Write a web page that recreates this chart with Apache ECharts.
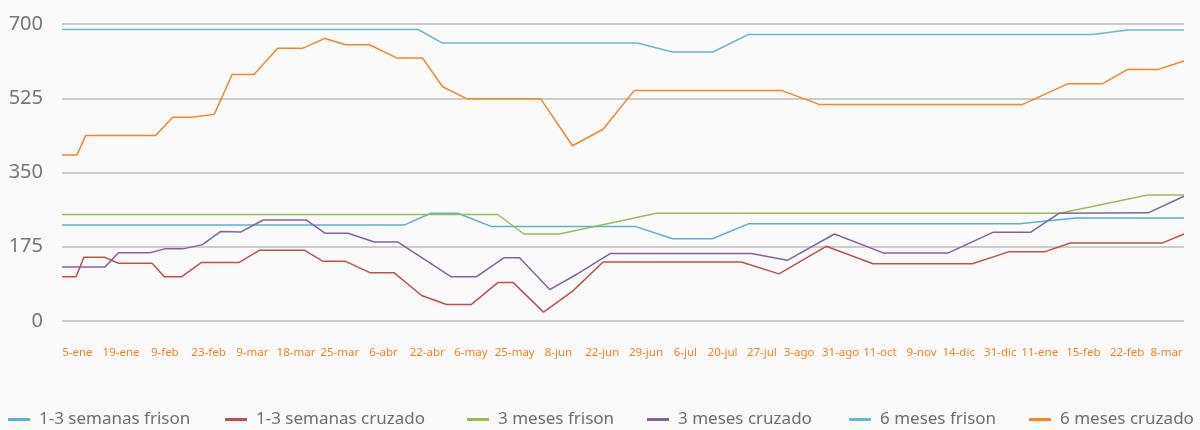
<!DOCTYPE html>
<html>
<head>
<meta charset="utf-8">
<title>Precios terneros</title>
<script src="https://cdn.jsdelivr.net/npm/echarts@6/dist/echarts.min.js"></script>
<style>
  html, body { margin: 0; padding: 0; background: #fafafa; }
  #chart { width: 1200px; height: 430px; }
</style>
</head>
<body>
<div id="chart"></div>
<script>
// etiquetas del eje x y su posición en la escala
var tickLabels = ['5-ene', '19-ene', '9-feb', '23-feb', '9-mar', '18-mar', '25-mar', '6-abr', '22-abr', '6-may',
  '25-may', '8-jun', '22-jun', '29-jun', '6-jul', '20-jul', '27-jul', '3-ago', '31-ago', '11-oct',
  '9-nov', '14-dic', '31-dic', '11-ene', '15-feb', '22-feb', '8-mar']
var tickPos = [3.5, 13.5, 23.5, 33.5, 43.5, 53.5, 63.5, 73.5, 83.5, 93.5,
  103.5, 113.5, 123.5, 133.5, 142.5, 151, 160, 168.5, 178, 187,
  196.5, 205, 214.5, 223.5, 233.5, 243.5, 252.5]

var seriesNames = ['1-3 semanas frison', '1-3 semanas cruzado', '3 meses frison', '3 meses cruzado', '6 meses frison', '6 meses cruzado']

// 1-3 semanas frison
var sem13FrisonX = [0, 78.2, 84.3, 90.5, 98.1, 131, 139.6, 148.7, 156.9, 218.9, 231.8, 256.5]
var sem13FrisonY = [226, 226, 254, 254, 223, 223, 194, 194, 229, 229, 243, 243]

// 1-3 semanas cruzado
var sem13CruzadoX = [0, 3.2, 5.0, 9.8, 12.9, 20.6, 23.4, 27.3, 31.9, 40.5, 45.2, 55.4, 59.6, 64.7, 70.4, 75.9, 82.2, 87.9,
  93.6, 99.7, 103.1, 110.1, 116.8, 123.7, 155.3, 163.9, 174.7, 185.4, 208.1, 216.4, 224.6, 230.5, 251.6, 256.5]
var sem13CruzadoY = [104, 104, 150, 150, 136, 136, 104, 104, 138, 138, 167, 167, 141, 141, 114, 114, 60, 39,
  39, 91, 91, 21, 71, 139, 139, 111, 176, 135, 135, 163, 163, 184, 184, 205]

// 3 meses frison
var mes3FrisonX = [0, 99.6, 105.6, 113.7, 135.9, 228.1, 248.2, 256.5]
var mes3FrisonY = [251, 251, 205, 205, 254, 254, 297, 297]

// 3 meses cruzado
var mes3CruzadoX = [0, 9.8, 12.9, 20.1, 23.5, 27.7, 32.1, 36.3, 40.9, 46.0, 55.9, 60.1, 65.4, 71.4, 76.8, 89.0,
  94.7, 101.0, 104.6, 111.5, 118.0, 125.3, 157.6, 165.8, 176.6, 187.9, 202.5, 212.8, 221.4, 228.0, 248.3, 256.5]
var mes3CruzadoY = [127, 127, 161, 161, 170, 170, 180, 211, 210, 238, 238, 207, 207, 186, 186, 104,
  104, 149, 149, 74, 112, 159, 159, 143, 205, 160, 160, 209, 209, 254, 255, 294]

// 6 meses frison
var mes6FrisonX = [0, 81.4, 87.0, 131.5, 139.6, 148.8, 156.8, 235.6, 243.6, 256.5]
var mes6FrisonY = [687, 687, 655, 655, 634, 634, 675, 675, 686, 686]

// 6 meses cruzado
var mes6CruzadoX = [0, 3.4, 5.4, 21.4, 25.3, 29.6, 34.8, 38.9, 43.9, 49.3, 55.1, 60.1, 64.8, 70.3, 76.5, 82.4,
  87.0, 92.5, 109.4, 116.7, 123.7, 130.8, 164.6, 173.2, 219.5, 229.9, 237.8, 243.6, 250.6, 256.5]
var mes6CruzadoY = [391, 391, 437, 437, 480, 480, 487, 581, 581, 643, 643, 666, 651, 651, 620, 620,
  552, 524, 524, 413, 452, 543, 543, 510, 510, 559, 559, 593, 593, 613]

var yTicks = [0, 175, 350, 525, 700]

var colors = ['#5eb0cc', '#c0504d', '#9bbb59', '#8064a2', '#6ab6d0', '#f2862a']

// posición horizontal de cada entrada de la leyenda
var legendLeft = [8, 225, 467, 647, 849, 1029]

function pairs(xs, ys) {
  return xs.map(function (x, i) { return [x, ys[i]] })
}

var lineData = [
  pairs(sem13FrisonX, sem13FrisonY),
  pairs(sem13CruzadoX, sem13CruzadoY),
  pairs(mes3FrisonX, mes3FrisonY),
  pairs(mes3CruzadoX, mes3CruzadoY),
  pairs(mes6FrisonX, mes6FrisonY),
  pairs(mes6CruzadoX, mes6CruzadoY)
]

var chart = echarts.init(document.getElementById('chart'))

chart.setOption({
  backgroundColor: '#fafafa',
  animation: false,
  color: colors,
  grid: {
    left: 62,
    right: 16,
    top: 24,
    bottom: 109
  },
  // una leyenda por serie para fijar cada posición
  legend: seriesNames.map(function (name, i) {
    return {
      left: legendLeft[i],
      top: 411,
      padding: 0,
      icon: 'rect',
      itemWidth: 22,
      itemHeight: 3,
      textStyle: {
        color: '#6e6e6e',
        fontFamily: 'Noto Sans',
        fontSize: 17,
        padding: [0, 0, 0, 4]
      },
      data: [name]
    }
  }),
  xAxis: {
    type: 'value',
    min: 0,
    max: 256.5,
    axisLine: { show: false },
    axisTick: { show: false },
    splitLine: { show: false },
    axisLabel: {
      customValues: tickPos,
      margin: 26,
      color: '#f0821e',
      fontFamily: 'Noto Sans',
      fontSize: 11.5,
      formatter: function (val) {
        var i = tickPos.indexOf(val)
        return i >= 0 ? tickLabels[i] : ''
      }
    }
  },
  yAxis: {
    type: 'value',
    min: yTicks[0],
    max: yTicks[yTicks.length - 1],
    interval: 175,
    axisLine: { show: false },
    axisTick: { show: false },
    splitLine: {
      lineStyle: { color: '#bdbdbd', width: 1.5 }
    },
    axisLabel: {
      margin: 19,
      color: '#767676',
      fontFamily: 'Noto Sans',
      fontSize: 20
    }
  },
  series: seriesNames.map(function (name, i) {
    return {
      name: name,
      type: 'line',
      showSymbol: false,
      symbol: 'none',
      lineStyle: { width: 1.5 },
      data: lineData[i]
    }
  })
})
</script>
</body>
</html>
